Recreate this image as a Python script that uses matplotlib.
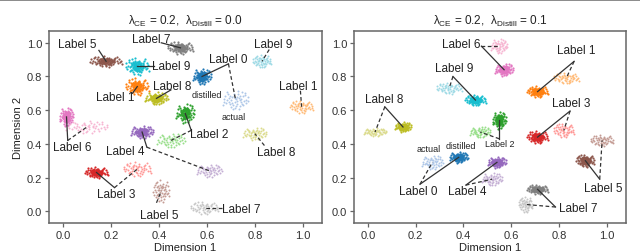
import numpy as np
import matplotlib.pyplot as plt

plt.rcParams['font.family'] = ['Liberation Sans', 'DejaVu Sans']
plt.rcParams['mathtext.fontset'] = 'custom'
plt.rcParams['mathtext.rm'] = 'Liberation Sans'

LABELS = ['Label %d' % i for i in range(10)]
DIST_COLORS = ['#1f77b4', '#ff7f0e', '#2ca02c', '#d62728', '#9467bd',
               '#8c564b', '#e377c2', '#7f7f7f', '#bcbd22', '#17becf']
ACT_COLORS = ['#aec7e8', '#ffbb78', '#98df8a', '#ff9896', '#c5b0d5',
              '#c49c94', '#f7b6d2', '#c7c7c7', '#dbdb8d', '#9edae5']

# rough shape of one cloud (unit offsets), reused for every cluster
CLOUD_DX = [0.12, -0.48, 0.77, -0.15, 0.33, -0.71, 0.05, 0.58, -0.32, 0.91, -0.88, 0.24,
            -0.05, 0.44, -0.55, 0.68, -0.25, 0.15, -0.95, 0.38, -0.62, 0.02, 0.82, -0.40,
            0.55, -0.12, 0.27, -0.78, 0.10, -0.35, 0.64, -0.20, 0.48, -0.50, 0.20, -0.08,
            0.72, -0.65, 0.35, -0.28, 0.95, -0.45, 0.08, -0.18, 0.52, -0.85, 0.30, -0.02]
CLOUD_DY = [-0.35, 0.21, 0.05, 0.62, 0.44, -0.28, 0.08, -0.52, -0.66, 0.33, 0.10, -0.85,
            -0.18, 0.12, 0.55, 0.70, 0.30, 0.90, -0.45, -0.22, -0.02, -0.55, -0.30, -0.40,
            0.38, 0.45, 0.22, 0.40, -0.05, 0.05, -0.10, -0.90, 0.80, -0.15, 0.55, 0.25,
            0.50, 0.75, -0.62, -0.25, -0.05, 0.38, 0.35, -0.45, -0.35, -0.20, 0.05, -0.80]

# panel 1: lambda_distill = 0.0
L_DIST_X = [0.58, 0.31, 0.51, 0.14, 0.33, 0.18, 0.015, 0.49, 0.39, 0.31]
L_DIST_Y = [0.80, 0.74, 0.58, 0.23, 0.47, 0.89, 0.56, 0.97, 0.67, 0.86]
L_DIST_SX = [0.04, 0.05, 0.04, 0.05, 0.05, 0.07, 0.03, 0.055, 0.05, 0.05]
L_DIST_SY = [0.05, 0.055, 0.06, 0.035, 0.04, 0.035, 0.06, 0.04, 0.04, 0.055]
L_ACT_X = [0.72, 0.995, 0.45, 0.31, 0.61, 0.41, 0.10, 0.59, 0.80, 0.83]
L_ACT_Y = [0.66, 0.62, 0.42, 0.25, 0.24, 0.12, 0.50, 0.02, 0.46, 0.89]
L_ACT_SX = [0.055, 0.05, 0.06, 0.06, 0.055, 0.035, 0.09, 0.06, 0.05, 0.04]
L_ACT_SY = [0.06, 0.04, 0.045, 0.045, 0.04, 0.07, 0.04, 0.04, 0.04, 0.04]

L_NOTE_LAB = [5, 7, 9, 0, 9, 1, 1, 8, 6, 2, 4, 8, 3, 5, 7]
L_NOTE_LINK = ['d', 'd', 'd', 'da', 'a', 'a', 'd', 'd', 'da', 'da', 'da', 'a', 'da', 'a', 'a']
L_NOTE_X = [0.06, 0.37, 0.45, 0.69, 0.875, 0.98, 0.22, 0.455, 0.04, 0.61, 0.26, 0.89, 0.22, 0.40, 0.745]
L_NOTE_Y = [0.99, 1.02, 0.865, 0.905, 0.99, 0.745, 0.68, 0.745, 0.38, 0.46, 0.36, 0.35, 0.10, -0.02, 0.015]
L_ANC_X = [0.15, 0.41, 0.38, 0.69, 0.86, 0.99, 0.29, 0.45, 0.02, 0.535, 0.35, 0.84, 0.215, 0.39, 0.665]
L_ANC_Y = [0.955, 1.0, 0.86, 0.875, 0.96, 0.715, 0.70, 0.72, 0.42, 0.48, 0.38, 0.39, 0.14, 0.05, 0.02]
L_SMALL = [('distilled', 0.60, 0.695), ('actual', 0.71, 0.565)]

# panel 2: lambda_distill = 0.1
R_DIST_X = [0.38, 0.71, 0.55, 0.71, 0.54, 0.91, 0.57, 0.71, 0.147, 0.45]
R_DIST_Y = [0.32, 0.71, 0.54, 0.44, 0.29, 0.30, 0.84, 0.13, 0.50, 0.66]
R_DIST_SX = [0.04, 0.045, 0.03, 0.045, 0.04, 0.04, 0.04, 0.045, 0.035, 0.045]
R_DIST_SY = [0.035, 0.035, 0.055, 0.04, 0.035, 0.04, 0.04, 0.03, 0.03, 0.035]
R_ACT_X = [0.27, 0.83, 0.47, 0.82, 0.52, 0.98, 0.55, 0.66, 0.03, 0.34]
R_ACT_Y = [0.29, 0.79, 0.47, 0.48, 0.19, 0.42, 0.98, 0.04, 0.47, 0.73]
R_ACT_SX = [0.045, 0.055, 0.045, 0.045, 0.045, 0.05, 0.035, 0.03, 0.05, 0.055]
R_ACT_SY = [0.045, 0.035, 0.035, 0.045, 0.04, 0.035, 0.045, 0.05, 0.025, 0.035]

R_NOTE_LAB = [6, 1, 9, 8, 3, 2, 0, 4, 5, 7]
R_NOTE_LINK = ['da'] * 10
R_NOTE_X = [0.39, 0.87, 0.36, 0.07, 0.85, 0.55, 0.21, 0.415, 0.985, 0.88]
R_NOTE_Y = [0.99, 0.96, 0.85, 0.665, 0.64, 0.40, 0.12, 0.12, 0.14, 0.02]
R_ANC_X = [0.475, 0.863, 0.356, 0.071, 0.846, 0.55, 0.218, 0.41, 0.97, 0.785]
R_ANC_Y = [0.98, 0.89, 0.80, 0.62, 0.595, 0.43, 0.16, 0.155, 0.19, 0.025]
R_NOTE_SIZE = [8.5, 8.5, 8.5, 8.5, 8.5, 6.5, 8.5, 8.5, 8.5, 8.5]
R_SMALL = [('actual', 0.255, 0.375), ('distilled', 0.39, 0.39)]

dx = np.array(CLOUD_DX)
dy = np.array(CLOUD_DY)
INK = '#222222'
FRAME = '#666666'


def draw_panel(ax, dist_x, dist_y, dist_sx, dist_sy, act_x, act_y, act_sx, act_sy,
               note_lab, note_link, note_x, note_y, anc_x, anc_y, note_size, small, title):
    for i in range(10):
        flip = 1 if i % 2 == 0 else -1
        # actual: sparse, light
        ax.scatter(act_x[i] + flip * dx * act_sx[i], act_y[i] + dy * act_sy[i],
                   s=2, color=ACT_COLORS[i], linewidths=0, zorder=2)
        # distilled: denser core
        xs = np.concatenate([dx, 0.55 * dy]) * flip
        ys = np.concatenate([dy, 0.55 * dx])
        ax.scatter(dist_x[i] + xs * dist_sx[i], dist_y[i] + ys * dist_sy[i],
                   s=2.5, color=DIST_COLORS[i], linewidths=0, zorder=3)

    for k, lab in enumerate(note_lab):
        ax.text(note_x[k], note_y[k], LABELS[lab], fontsize=note_size[k], color=INK,
                ha='center', va='center', zorder=5)
        if 'd' in note_link[k]:
            ax.plot([anc_x[k], dist_x[lab]], [anc_y[k], dist_y[lab]], color='#333333',
                    lw=0.9, zorder=4)
        if 'a' in note_link[k]:
            ax.plot([anc_x[k], act_x[lab]], [anc_y[k], act_y[lab]], color='#333333',
                    lw=0.9, ls=(0, (3, 2)), zorder=4)
    for txt, x, y in small:
        ax.text(x, y, txt, fontsize=6.5, color=INK, ha='center', va='center', zorder=5)

    ax.set_xlim(-0.058, 1.08)
    ax.set_ylim(-0.07, 1.07)
    ax.set_xticks([0.0, 0.2, 0.4, 0.6, 0.8, 1.0])
    ax.set_yticks([0.0, 0.2, 0.4, 0.6, 0.8, 1.0])
    ax.set_xticklabels(['0.0', '0.2', '0.4', '0.6', '0.8', '1.0'])
    ax.set_yticklabels(['0.0', '0.2', '0.4', '0.6', '0.8', '1.0'])
    ax.tick_params(labelsize=8, colors=FRAME, labelcolor='#333333', length=3, width=0.9, pad=2)
    for sp in ax.spines.values():
        sp.set_color(FRAME)
        sp.set_linewidth(1.1)
    ax.set_xlabel('Dimension 1', fontsize=8, color=INK, labelpad=1.5)
    ax.set_title(title, fontsize=8.5, color=INK, pad=5)


fig = plt.figure(figsize=(6.4, 2.53), dpi=100)
ax1 = fig.add_axes([49 / 640, 1 - 224 / 253, 273 / 640, 192 / 253])
ax2 = fig.add_axes([354 / 640, 1 - 224 / 253, 272 / 640, 192 / 253])

draw_panel(ax1, L_DIST_X, L_DIST_Y, L_DIST_SX, L_DIST_SY, L_ACT_X, L_ACT_Y, L_ACT_SX, L_ACT_SY,
           L_NOTE_LAB, L_NOTE_LINK, L_NOTE_X, L_NOTE_Y, L_ANC_X, L_ANC_Y, [8.5] * len(L_NOTE_LAB),
           L_SMALL, r'λ$_{\mathrm{CE}}$ = 0.2,  λ$_{\mathrm{Distill}}$ = 0.0')
draw_panel(ax2, R_DIST_X, R_DIST_Y, R_DIST_SX, R_DIST_SY, R_ACT_X, R_ACT_Y, R_ACT_SX, R_ACT_SY,
           R_NOTE_LAB, R_NOTE_LINK, R_NOTE_X, R_NOTE_Y, R_ANC_X, R_ANC_Y, R_NOTE_SIZE,
           R_SMALL, r'λ$_{\mathrm{CE}}$ = 0.2,  λ$_{\mathrm{Distill}}$ = 0.1')
ax1.set_ylabel('Dimension 2', fontsize=8, color=INK, labelpad=3)

# thin rule along the top edge of the figure
fig.add_artist(plt.Line2D([0, 1], [0.998, 0.998], color='#777777', lw=1.2))

fig.savefig('out.png', dpi=100)
